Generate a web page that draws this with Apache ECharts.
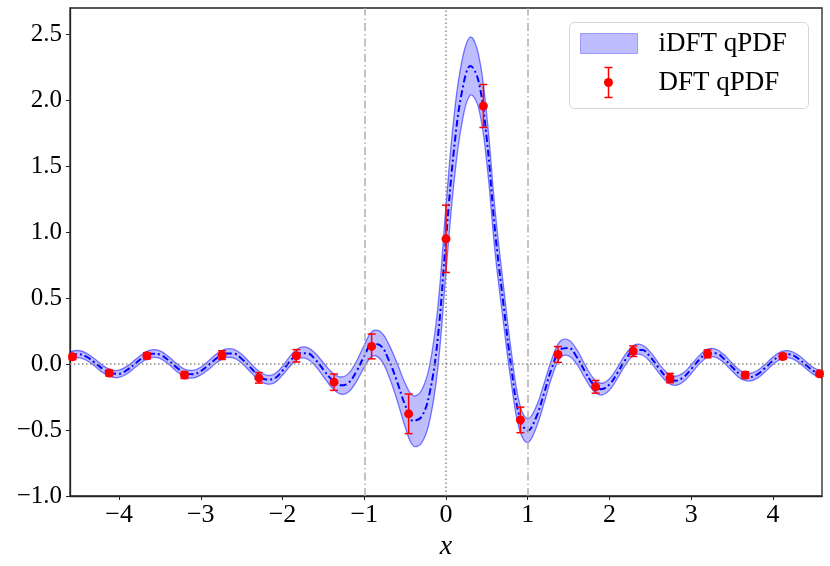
<!DOCTYPE html>
<html>
<head>
<meta charset="utf-8">
<script src="https://cdn.jsdelivr.net/npm/echarts@6/dist/echarts.min.js"></script>
<style>
  html, body { margin: 0; padding: 0; background: #fff; }
  #chart { width: 830px; height: 566px; }
</style>
</head>
<body>
<div id="chart"></div>
<script>
// iDFT curve sampled on x grid
const gridX = [
  -4.6, -4.5, -4.4, -4.3, -4.2, -4.1, -4.0, -3.9, -3.8, -3.7,
  -3.6, -3.5, -3.4, -3.3, -3.2, -3.1, -3.0, -2.9, -2.8, -2.7,
  -2.6, -2.5, -2.4, -2.3, -2.2, -2.1, -2.0, -1.9, -1.8, -1.7,
  -1.6, -1.5, -1.4, -1.3, -1.2, -1.1, -1.0, -0.9, -0.8, -0.7,
  -0.6, -0.5, -0.4, -0.3, -0.2, -0.1, 0.0, 0.1, 0.2, 0.3,
  0.4, 0.5, 0.6, 0.7, 0.8, 0.9, 1.0, 1.1, 1.2, 1.3,
  1.4, 1.5, 1.6, 1.7, 1.8, 1.9, 2.0, 2.1, 2.2, 2.3,
  2.4, 2.5, 2.6, 2.7, 2.8, 2.9, 3.0, 3.1, 3.2, 3.3,
  3.4, 3.5, 3.6, 3.7, 3.8, 3.9, 4.0, 4.1, 4.2, 4.3,
  4.4, 4.5, 4.6
];
const idftMean = [
  0.065, 0.076, 0.056, 0.013, -0.037, -0.070, -0.073, -0.044, 0.005, 0.053,
  0.079, 0.072, 0.031, -0.023, -0.066, -0.077, -0.053, -0.005, 0.047, 0.081,
  0.080, 0.041, -0.021, -0.081, -0.117, -0.109, -0.050, 0.028, 0.082, 0.083,
  0.035, -0.042, -0.117, -0.161, -0.146, -0.060, 0.060, 0.155, 0.140, 0.030,
  -0.130, -0.310, -0.430, -0.400, -0.220, 0.200, 0.950, 1.640, 2.080, 2.260,
  2.140, 1.700, 1.010, 0.470, -0.030, -0.400, -0.505, -0.408, -0.221, -0.020,
  0.111, 0.123, 0.054, -0.055, -0.152, -0.190, -0.154, -0.064, 0.038, 0.105,
  0.107, 0.054, -0.027, -0.099, -0.127, -0.102, -0.038, 0.034, 0.082, 0.082,
  0.041, -0.022, -0.078, -0.100, -0.081, -0.032, 0.025, 0.066, 0.074, 0.046,
  -0.005, -0.054, -0.079
];
const idftErr = [
  0.027, 0.027, 0.027, 0.027, 0.027, 0.027, 0.027, 0.029, 0.029, 0.029,
  0.029, 0.029, 0.029, 0.029, 0.029, 0.029, 0.029, 0.033, 0.033, 0.033,
  0.033, 0.033, 0.033, 0.033, 0.033, 0.033, 0.033, 0.038, 0.040, 0.043,
  0.047, 0.052, 0.058, 0.064, 0.070, 0.076, 0.085, 0.095, 0.105, 0.120,
  0.140, 0.165, 0.190, 0.200, 0.210, 0.230, 0.250, 0.250, 0.235, 0.220,
  0.200, 0.180, 0.160, 0.140, 0.120, 0.100, 0.090, 0.080, 0.074, 0.068,
  0.064, 0.060, 0.055, 0.051, 0.048, 0.045, 0.043, 0.041, 0.040, 0.039,
  0.038, 0.037, 0.036, 0.035, 0.035, 0.034, 0.033, 0.032, 0.032, 0.031,
  0.031, 0.030, 0.030, 0.029, 0.029, 0.028, 0.028, 0.028, 0.027, 0.027,
  0.027, 0.026, 0.026
];

// DFT points with error bars
const dftX = [-4.57, -4.12, -3.66, -3.2, -2.74, -2.29, -1.83, -1.37, -0.91, -0.457, 0,
  0.457, 0.91, 1.37, 1.83, 2.29, 2.74, 3.2, 3.66, 4.12, 4.57];
const dftY = [0.055, -0.068, 0.063, -0.083, 0.068, -0.104, 0.063, -0.137, 0.134, -0.377, 0.95,
  1.957, -0.423, 0.073, -0.172, 0.098, -0.106, 0.078, -0.083, 0.058, -0.074];
const dftErr = [0.02, 0.022, 0.024, 0.026, 0.033, 0.04, 0.047, 0.062, 0.094, 0.15, 0.255,
  0.163, 0.097, 0.06, 0.048, 0.04, 0.035, 0.03, 0.025, 0.022, 0.02];

const xTicks = [-4, -3, -2, -1, 0, 1, 2, 3, 4];
const yTicks = [-1.0, -0.5, 0.0, 0.5, 1.0, 1.5, 2.0, 2.5];

const FONT = "'Liberation Serif', 'DejaVu Serif', serif";
const minus = (s) => s.replace('-', '\u2212');

const chart = echarts.init(document.getElementById('chart'));

const meanData = gridX.map((x, i) => [x, idftMean[i]]);
const upperData = gridX.map((x, i) => [x, idftMean[i] + idftErr[i]]);
const lowerData = gridX.map((x, i) => [x, idftMean[i] - idftErr[i]]);
const dftData = dftX.map((x, i) => [x, dftY[i], dftErr[i]]);

const SMOOTH = 0.4;

const option = {
  animation: false,
  grid: {
    left: 70, right: 8, top: 8, bottom: 70,
    show: true, borderColor: '#222', borderWidth: 1.3
  },
  xAxis: {
    type: 'value', min: -4.6, max: 4.6,
    name: 'x', nameLocation: 'middle', nameGap: 28,
    nameTextStyle: { fontFamily: FONT, fontStyle: 'italic', fontSize: 28, color: '#000' },
    axisLine: { onZero: false, lineStyle: { color: '#222', width: 1.3 } },
    axisTick: { length: 4, lineStyle: { color: '#222' }, customValues: xTicks },
    axisLabel: {
      customValues: xTicks, margin: 6, fontFamily: FONT, fontSize: 26, color: '#000',
      formatter: (v) => minus(String(v))
    },
    splitLine: { show: false }
  },
  yAxis: {
    type: 'value', min: -1.0, max: 2.7,
    axisLine: { show: true, onZero: false, lineStyle: { color: '#222', width: 1.3 } },
    axisTick: { show: true, length: 4, lineStyle: { color: '#222' }, customValues: yTicks },
    axisLabel: {
      customValues: yTicks, margin: 8, fontFamily: FONT, fontSize: 25, color: '#000',
      formatter: (v) => minus(v.toFixed(1))
    },
    splitLine: { show: false }
  },
  series: [
    {
      // shaded band between lower and upper curves
      name: 'iDFT qPDF', type: 'custom', silent: true, clip: true, z: 2,
      data: [[0, 0]],
      renderItem: (params, api) => {
        const up = upperData.map((p) => api.coord(p));
        const lo = lowerData.map((p) => api.coord(p));
        const edge = { stroke: 'rgba(0,0,255,0.5)', lineWidth: 1.3, fill: null };
        return {
          type: 'group',
          children: [
            { type: 'polygon', shape: { points: up.concat(lo.slice().reverse()), smooth: SMOOTH },
              style: { fill: 'rgba(0,0,255,0.26)' } },
            { type: 'polyline', shape: { points: up, smooth: SMOOTH }, style: edge },
            { type: 'polyline', shape: { points: lo, smooth: SMOOTH }, style: edge }
          ]
        };
      }
    },
    {
      name: 'mean', type: 'line', smooth: SMOOTH, z: 3,
      data: meanData, symbol: 'none', silent: true,
      lineStyle: { color: '#0000ff', width: 2, type: [7, 3, 2, 3] },
      markLine: {
        silent: true, symbol: 'none', label: { show: false },
        data: [
          { xAxis: -1, lineStyle: { color: '#b0b0b0', width: 1.5, type: [8, 3, 1.5, 3] } },
          { xAxis: 1, lineStyle: { color: '#b0b0b0', width: 1.5, type: [8, 3, 1.5, 3] } },
          { xAxis: 0, lineStyle: { color: '#888', width: 1.5, type: [1.5, 2.5] } },
          { yAxis: 0, lineStyle: { color: '#888', width: 1.5, type: [1.5, 2.5] } }
        ]
      }
    },
    {
      name: 'DFT qPDF', type: 'custom', data: dftData, z: 5,
      renderItem: (params, api) => {
        const x = api.value(0), y = api.value(1), e = api.value(2);
        const c = api.coord([x, y]);
        const top = api.coord([x, y + e]);
        const bot = api.coord([x, y - e]);
        const w = 4;
        const st = { stroke: '#ff0000', lineWidth: 1.5 };
        return {
          type: 'group',
          children: [
            { type: 'line', shape: { x1: c[0], y1: top[1], x2: c[0], y2: bot[1] }, style: st },
            { type: 'line', shape: { x1: c[0] - w, y1: top[1], x2: c[0] + w, y2: top[1] }, style: st },
            { type: 'line', shape: { x1: c[0] - w, y1: bot[1], x2: c[0] + w, y2: bot[1] }, style: st },
            { type: 'circle', shape: { cx: c[0], cy: c[1], r: 4.5 }, style: { fill: '#ff0000' } }
          ]
        };
      }
    }
  ],
  graphic: [
    {
      type: 'group', left: 569, top: 22, z: 100,
      children: [
        { type: 'rect', shape: { x: 0, y: 0, width: 239, height: 86, r: 5 },
          style: { fill: 'rgba(255,255,255,0.85)', stroke: '#d6d6d6', lineWidth: 1 } },
        { type: 'rect', shape: { x: 11, y: 11, width: 57, height: 20 },
          style: { fill: 'rgba(0,0,255,0.26)', stroke: 'rgba(0,0,255,0.3)', lineWidth: 1 } },
        { type: 'text', x: 89, y: 21,
          style: { text: 'iDFT qPDF', font: '27px ' + FONT, fill: '#000', verticalAlign: 'middle' } },
        { type: 'line', shape: { x1: 39, y1: 45, x2: 39, y2: 75 }, style: { stroke: '#ff0000', lineWidth: 1.5 } },
        { type: 'line', shape: { x1: 35, y1: 45, x2: 43, y2: 45 }, style: { stroke: '#ff0000', lineWidth: 1.5 } },
        { type: 'line', shape: { x1: 35, y1: 75, x2: 43, y2: 75 }, style: { stroke: '#ff0000', lineWidth: 1.5 } },
        { type: 'circle', shape: { cx: 39, cy: 60, r: 4.5 }, style: { fill: '#ff0000' } },
        { type: 'text', x: 89, y: 60,
          style: { text: 'DFT qPDF', font: '27px ' + FONT, fill: '#000', verticalAlign: 'middle' } }
      ]
    }
  ]
};

chart.setOption(option);
</script>
</body>
</html>
